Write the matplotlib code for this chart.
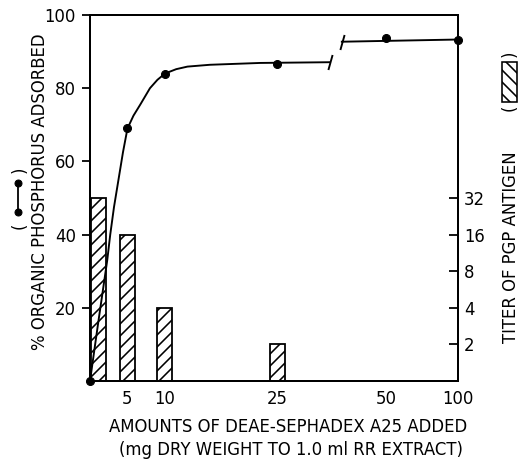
import numpy as np
import matplotlib.pyplot as plt
from matplotlib.lines import Line2D
from matplotlib.patches import Rectangle
from matplotlib.ticker import NullLocator

# measured points (mg DEAE-Sephadex, % organic P adsorbed)
amounts = [0, 5, 10, 25, 50, 100]
phosphorus = [0, 69, 84, 86.6, 93.6, 93.3]

# hand-drawn curve
curve_x = [0, 1.1, 2.3, 2.7, 3.2, 3.8, 4.4, 5, 5.8, 6.7, 8, 9, 10,
           11.5, 13, 16, 22.7, 32]
curve_y = [0, 16, 33, 40, 47.5, 55, 62.5, 69, 72.5, 75.5, 80, 82.3, 84,
           85.2, 85.9, 86.4, 86.9, 87.1]
upper_x = [34, 100]
upper_y = [92.7, 93.3]

# PGP antigen titer bars
titer_amounts = [0, 5, 10, 25]
titers = [32, 16, 4, 2]

x_ticks = [5, 10, 25, 50, 100]
left_ticks = [20, 40, 60, 80, 100]
right_ticks = [2, 4, 8, 16, 32]

# broken x axis: linear up to the break, compressed after it
brk_amt = [-50, 0, 32, 34, 50, 100, 200]
brk_pos = [-50, 0, 32, 33.6, 39.5, 49.1, 58.7]


def fwd(x):
    return np.interp(x, brk_amt, brk_pos)


def inv(p):
    return np.interp(p, brk_pos, brk_amt)


plt.rcParams['font.family'] = 'DejaVu Sans'
plt.rcParams['hatch.linewidth'] = 1.6
fs = 16.5

fig = plt.figure(figsize=(520 / 72, 465 / 72), dpi=72)
ax = fig.add_axes([90 / 520, 1 - 381 / 465, 368 / 520, 366 / 465])
ax.set_xscale('function', functions=(fwd, inv))
ax2 = ax.twinx()

# titer bars on a log2 scale (right axis)
bar_w = 2.0
bar_x = np.array(titer_amounts, dtype=float)
bar_x = np.where(bar_x == 0, bar_w * 0.6, bar_x)
ax2.bar(bar_x, np.array(titers) - 1, bottom=1, width=bar_w,
        facecolor='white', edgecolor='black', hatch='//', lw=1.8)
ax2.set_yscale('log', base=2)
ax2.set_ylim(1, 1024)
ax2.set_yticks(right_ticks)
ax2.set_yticklabels([str(t) for t in right_ticks])
ax2.yaxis.set_minor_locator(NullLocator())
ax2.tick_params(axis='y', direction='in', length=9, width=1.8,
                labelsize=fs, pad=6)

# curve and points on the left axis, drawn above the bars
ax.set_zorder(ax2.get_zorder() + 1)
ax.patch.set_visible(False)
ax.plot(curve_x, curve_y, color='black', lw=1.9, clip_on=False)
ax.plot(upper_x, upper_y, color='black', lw=1.9, clip_on=False)
ax.plot(amounts, phosphorus, 'o', color='black', ms=8, clip_on=False)
# break marks at the ends of the two segments
slash = [(-0.28, -1), (0.28, 1)]
ax.plot([curve_x[-1], upper_x[0]], [curve_y[-1], upper_y[0]],
        linestyle='none', marker=slash, ms=15, mew=1.9, color='black',
        clip_on=False)

ax.set_xlim(0, 100)
ax.set_ylim(0, 100)
ax.set_xticks(x_ticks)
ax.set_xticklabels([str(t) for t in x_ticks])
ax.xaxis.set_minor_locator(NullLocator())
ax.set_yticks(left_ticks)
ax.tick_params(axis='y', direction='out', length=8, width=1.8,
               labelsize=fs, pad=6)
ax.tick_params(axis='x', length=0, labelsize=fs, pad=9)

for a in (ax, ax2):
    for s in a.spines.values():
        s.set_linewidth(2)

# axis titles
fig.text(40 / 520, 1 - 192 / 465, '% ORGANIC PHOSPHORUS ADSORBED',
         rotation=90, ha='center', va='center', fontsize=fs)
fig.text(20 / 520, 1 - 226 / 465, '(', rotation=90, ha='center',
         va='center', fontsize=fs)
fig.text(20 / 520, 1 - 170 / 465, ')', rotation=90, ha='center',
         va='center', fontsize=fs)
fig.add_artist(Line2D([18 / 520, 18 / 520], [1 - 212 / 465, 1 - 183 / 465],
                      transform=fig.transFigure, color='black', lw=1.8,
                      marker='o', ms=7))

fig.text(511 / 520, 1 - 247 / 465, 'TITER OF PGP ANTIGEN',
         rotation=90, ha='center', va='center', fontsize=fs)
fig.text(510 / 520, 1 - 108 / 465, '(', rotation=90, ha='center',
         va='center', fontsize=fs)
fig.text(510 / 520, 1 - 54 / 465, ')', rotation=90, ha='center',
         va='center', fontsize=fs)
fig.add_artist(Rectangle((502 / 520, 1 - 102 / 465), 15 / 520, 40 / 465,
                         transform=fig.transFigure, facecolor='white',
                         edgecolor='black', hatch='\\\\', lw=1.6))

fig.text(288 / 520, 1 - 427 / 465, 'AMOUNTS OF DEAE-SEPHADEX A25 ADDED',
         ha='center', va='center', fontsize=fs)
fig.text(291 / 520, 1 - 450 / 465, '(mg DRY WEIGHT TO 1.0 ml RR EXTRACT)',
         ha='center', va='center', fontsize=fs)

fig.savefig('out.png', dpi=72)
